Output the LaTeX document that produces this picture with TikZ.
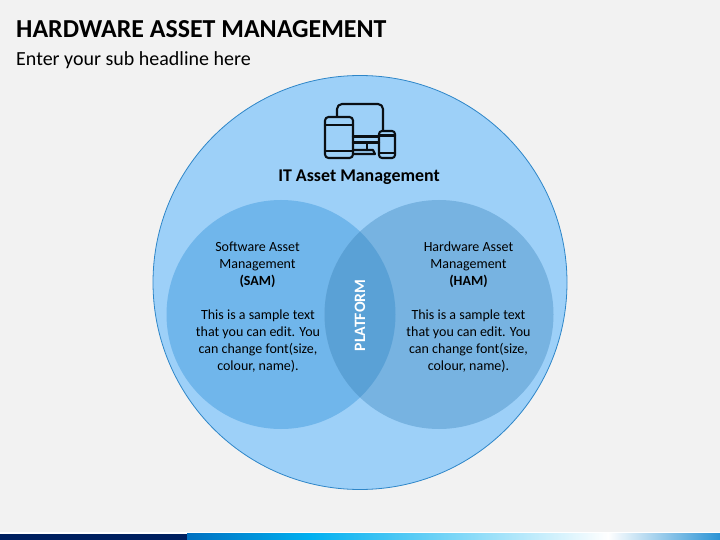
\documentclass[tikz,border=0pt]{standalone}
\usepackage{fontspec}
\setmainfont{Carlito}
\definecolor{bgc}{HTML}{F2F2F2}
\definecolor{bigc}{HTML}{9DD0F8}
\definecolor{bigb}{HTML}{2E86C8}
\definecolor{samc}{HTML}{70B6EB}
\definecolor{hamc}{HTML}{77B3E1}
\definecolor{midc}{HTML}{5AA1D6}
\definecolor{navyc}{HTML}{002060}
\definecolor{icon}{HTML}{0A0F14}
\definecolor{bandA}{HTML}{0070C0}
\definecolor{bandB}{HTML}{00B0F0}
\definecolor{bandC}{HTML}{2A93D5}
\tikzset{
  body/.style={font=\fontsize{14}{17}\selectfont,align=center,text=black,inner sep=0pt},
  icn/.style={draw=icon,line width=2.1pt,line join=round,line cap=round},
}
\begin{document}
\begin{tikzpicture}[x=1pt,y=-1pt]
\useasboundingbox (0,0) rectangle (720,540);
\fill[bgc] (0,0) rectangle (720,540);
% bottom band
\fill[white] (0,532) rectangle (720,533.5);
\fill[navyc] (0,533.5) rectangle (187,540);
\shade[left color=bandA,right color=bandB] (187,533.5) rectangle (310,540);
\shade[left color=bandB,right color=white] (310,533.5) rectangle (608,540);
\shade[left color=white,right color=bandC] (608,533.5) rectangle (720,540);
% title
\node[anchor=west,inner sep=0pt,font=\fontsize{25.9}{28}\selectfont\bfseries] (title) at (16,29) {HARDWARE ASSET MANAGEMENT};
\node[anchor=west,inner sep=0pt,font=\fontsize{20}{22}\selectfont] (sub) at (16,60) {Enter your sub headline here};
% circles
\node[circle,draw=bigb,line width=0.8pt,fill=bigc,minimum size=414pt,inner sep=0pt] (big) at (360,282.5) {};
\fill[samc] (281,314.5) circle (114.5);
\fill[hamc] (439,314.5) circle (114.5);
\begin{scope}
\clip (281,314.5) circle (114.5);
\fill[midc] (439,314.5) circle (114.5);
\end{scope}
% icon
\draw[icn] (337,116) -- (337,109) arc[start angle=180,end angle=270,radius=5] -- (378,104) arc[start angle=270,end angle=360,radius=5] -- (383,130);
\draw[icn] (353,136.5) -- (379,136.5);
\draw[icn] (353,142.5) -- (379,142.5);
\draw[icn] (367,142.5) -- (367,150);
\draw[icn] (353,150) -- (373,150) -- (375,154) -- (353,154);
\draw[icn,rounded corners=3.5pt] (325,117) rectangle (353,158);
\draw[icn] (325,125) -- (353,125);
\draw[icn] (325,151) -- (353,151);
\draw[icn,rounded corners=3pt] (379,131) rectangle (395,158);
\draw[icn] (379,135.5) -- (395,135.5);
\draw[icn] (379,153) -- (395,153);
% text
\node[inner sep=0pt,font=\fontsize{17.9}{20}\selectfont\bfseries] (it) at (359,177) {IT Asset Management};
\node[body] (samh) at (257.5,264.5) {Software Asset\\Management\\\textbf{(SAM)}};
\node[body] (samt) at (258,341.5) {This is a sample text\\that you can edit. You\\can change font(size,\\colour, name).};
\node[body] (hamh) at (468.5,264.5) {Hardware Asset\\Management\\\textbf{(HAM)}};
\node[body] (hamt) at (468.5,341.5) {This is a sample text\\that you can edit. You\\can change font(size,\\colour, name).};
\node[rotate=90,inner sep=0pt,text=white,font=\fontsize{15.8}{18}\selectfont\bfseries] (plat) at (360,315.5) {PLATFORM};
\end{tikzpicture}
\end{document}
